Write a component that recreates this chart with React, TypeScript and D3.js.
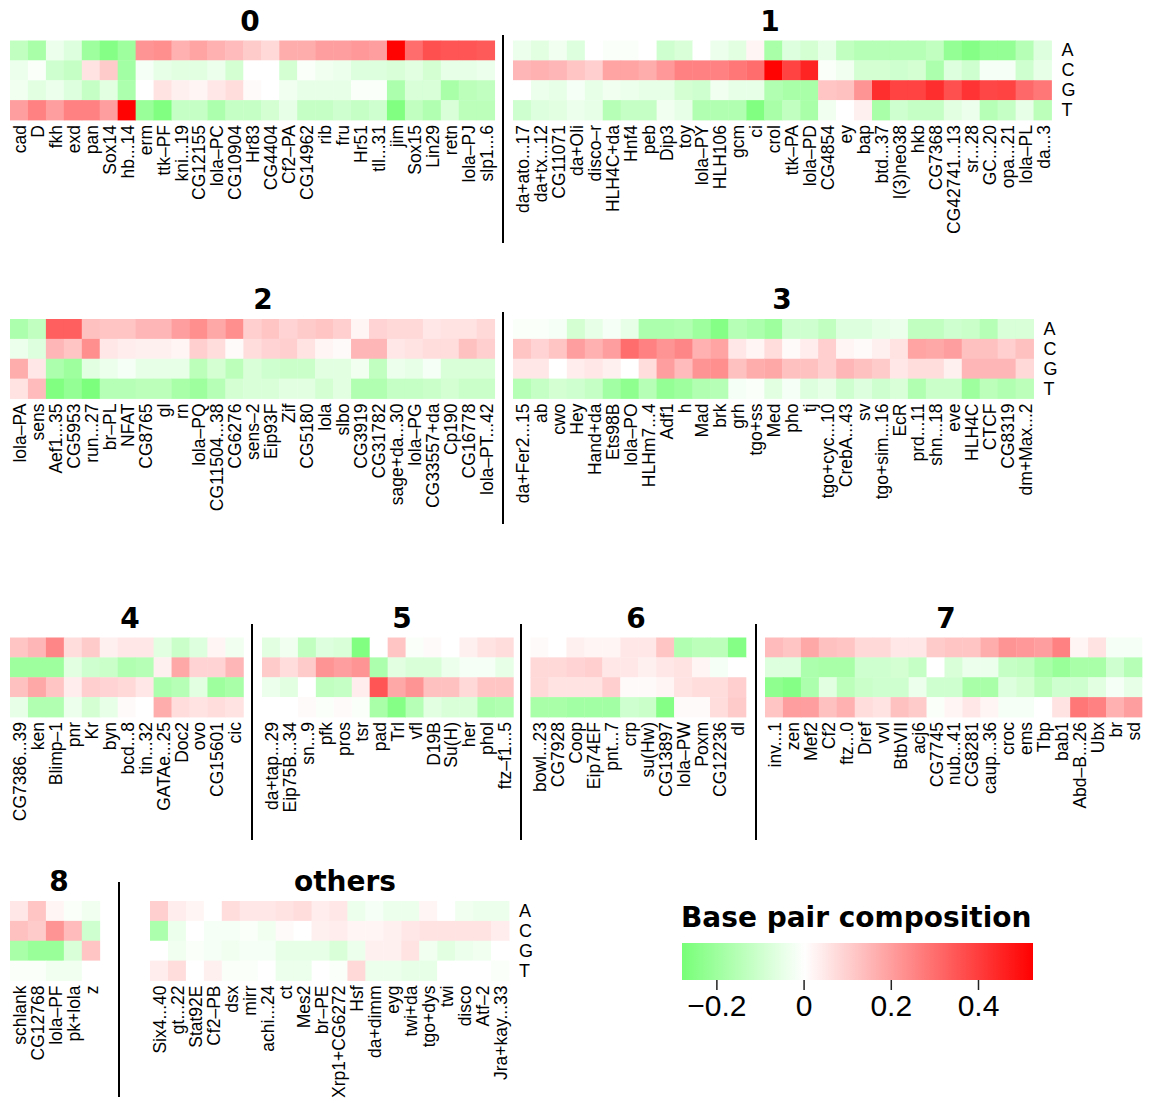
import React, { useEffect, useRef } from "react";
import * as d3 from "d3";

// bases (rows of every heatmap)
const bases = ["A", "C", "G", "T"];

// cluster 0
const g0Labels = ["cad", "D", "fkh", "exd", "pan", "Sox14", "hb...14", "erm", "ttk–PF", "kni...19", "CG12155", "lola–PC", "CG10904", "Hr83", "CG4404", "Cf2–PA", "CG14962", "rib", "fru", "Hr51", "tll...31", "jim", "Sox15", "Lin29", "retn", "lola–PJ", "slp1...6"];
const g0A = [-0.13, -0.18, -0.04, -0.07, -0.2, -0.25, -0.2, 0.22, 0.23, 0.16, 0.19, 0.16, 0.14, 0.11, 0.08, 0.17, 0.17, 0.2, 0.2, 0.21, 0.2, 0.52, 0.3, 0.36, 0.35, 0.35, 0.34];
const g0C = [-0.04, -0.01, -0.1, -0.12, 0.06, 0.11, -0.19, -0.02, -0.05, -0.06, -0.06, -0.04, -0.09, 0, 0, -0.09, -0.01, -0.03, -0.04, -0.07, -0.07, -0.08, -0.06, -0.09, -0.05, -0.05, -0.04];
const g0G = [-0.03, -0.06, -0.04, -0.07, -0.12, -0.06, -0.17, 0, 0.06, 0.03, 0.02, 0.05, 0.07, 0.01, 0, -0.03, -0.05, -0.05, -0.05, -0.01, -0.01, -0.17, -0.08, -0.08, -0.18, -0.14, -0.13];
const g0T = [0.2, 0.26, 0.2, 0.26, 0.26, 0.2, 0.52, -0.21, -0.26, -0.12, -0.12, -0.17, -0.12, -0.12, -0.09, -0.05, -0.12, -0.12, -0.1, -0.12, -0.1, -0.26, -0.13, -0.16, -0.08, -0.14, -0.14];

// cluster 1
const g1Labels = ["da+ato...17", "da+tx...12", "CG11071", "da+Oli", "disco–r", "HLH4C+da", "Hnf4", "peb", "Dip3", "toy", "lola–PY", "HLH106", "gcm", "ci", "crol", "ttk–PA", "lola–PD", "CG4854", "ey", "bap", "btd...37", "l(3)neo38", "hkb", "CG7368", "CG42741...13", "sr...28", "GC...20", "opa...21", "lola–PL", "da...3"];
const g1A = [-0.04, -0.06, -0.03, -0.07, 0, -0.01, -0.01, 0, -0.1, -0.08, 0, -0.04, -0.06, 0.02, -0.18, -0.07, -0.09, -0.05, -0.13, -0.15, -0.15, -0.15, -0.15, -0.13, -0.22, -0.25, -0.22, -0.22, -0.15, -0.07];
const g1C = [0.15, 0.16, 0.15, 0.12, 0.1, 0.19, 0.19, 0.17, 0.21, 0.26, 0.26, 0.26, 0.28, 0.3, 0.52, 0.39, 0.45, -0.01, -0.03, -0.09, -0.09, -0.1, -0.09, -0.17, -0.07, -0.1, -0.02, -0.02, -0.1, -0.05];
const g1G = [0, -0.04, -0.05, -0.02, -0.05, -0.03, -0.04, -0.05, -0.05, -0.09, -0.1, -0.03, -0.05, -0.05, -0.16, -0.18, -0.18, 0.12, 0.13, 0.22, 0.43, 0.39, 0.39, 0.43, 0.36, 0.42, 0.38, 0.39, 0.31, 0.28];
const g1T = [-0.1, -0.07, -0.06, -0.04, -0.05, -0.15, -0.12, -0.12, -0.03, -0.05, -0.16, -0.16, -0.16, -0.26, -0.18, -0.13, -0.18, -0.03, 0, 0.03, -0.18, -0.1, -0.12, -0.12, -0.06, -0.04, -0.15, -0.12, -0.05, -0.14];

// cluster 2
const g2Labels = ["lola–PA", "sens", "Aef1...35", "CG5953", "run...27", "br–PL", "NFAT", "CG8765", "gl", "rn", "lola–PQ", "CG11504...38", "CG6276", "sens–2", "Eip93F", "Zif", "CG5180", "lola", "slbo", "CG3919", "CG31782", "sage+da...30", "lola–PG", "CG33557+da", "Cp190", "CG16778", "lola–PT...42"];
const g2A = [-0.17, -0.13, 0.33, 0.33, 0.13, 0.12, 0.12, 0.15, 0.15, 0.2, 0.23, 0.18, 0.23, 0.1, 0.12, 0.09, 0.11, 0.12, 0.1, 0.02, 0.09, 0.08, 0.08, 0.05, 0.06, 0.06, 0.08];
const g2C = [-0.04, -0.07, 0.15, 0.12, 0.23, 0.05, 0.04, 0.03, 0.03, 0.02, 0.1, 0.07, 0.01, 0.07, 0.09, 0.1, 0.06, 0.02, 0.01, 0.15, 0.15, 0.05, 0.06, 0.07, 0.07, 0.13, 0.1];
const g2G = [0.17, 0.05, -0.17, -0.2, -0.06, -0.04, -0.02, -0.05, -0.05, -0.05, -0.14, -0.09, -0.14, -0.08, -0.1, -0.11, -0.11, -0.06, -0.06, -0.03, -0.13, -0.04, -0.05, -0.02, -0.08, -0.08, -0.08];
const g2T = [0.06, 0.14, -0.26, -0.22, -0.27, -0.15, -0.15, -0.14, -0.14, -0.18, -0.2, -0.15, -0.09, -0.08, -0.08, -0.06, -0.06, -0.09, -0.06, -0.16, -0.16, -0.12, -0.12, -0.11, -0.09, -0.11, -0.11];

// cluster 3
const g3Labels = ["da+Fer2...15", "ab", "cwo", "Hey", "Hand+da", "Ets98B", "lola–PO", "HLHm7...4", "Adf1", "h", "Mad", "brk", "grh", "tgo+ss", "Med", "pho", "tj", "tgo+cyc...10", "CrebA...43", "sv", "tgo+sim...16", "EcR", "prd...11", "shn...18", "eve", "HLH4C", "CTCF", "CG8319", "dm+Max...2"];
const g3A = [-0.01, -0.01, -0.02, -0.09, -0.05, -0.02, -0.05, -0.17, -0.17, -0.16, -0.2, -0.25, -0.15, -0.17, -0.2, -0.1, -0.1, -0.13, -0.07, -0.07, -0.05, -0.04, -0.13, -0.13, -0.1, -0.11, -0.15, -0.08, -0.08];
const g3C = [0.12, 0.09, 0.12, 0.2, 0.16, 0.2, 0.3, 0.26, 0.22, 0.25, 0.16, 0.19, 0.05, 0.02, 0.07, 0.01, 0.04, 0.1, 0.02, 0.01, 0.03, 0.06, 0.19, 0.18, 0.2, 0.13, 0.13, 0.1, 0.13];
const g3G = [0.05, 0.05, 0, 0.04, 0.05, 0.03, 0, 0.07, 0.2, 0.14, 0.22, 0.23, 0.13, 0.17, 0.18, 0.13, 0.13, 0.1, 0.15, 0.13, 0.11, 0.05, 0.07, 0.07, 0.03, 0.15, 0.15, 0.15, 0.08];
const g3T = [-0.15, -0.12, -0.09, -0.1, -0.12, -0.19, -0.23, -0.15, -0.22, -0.2, -0.16, -0.15, -0.02, -0.01, -0.06, -0.02, -0.07, -0.05, -0.1, -0.07, -0.1, -0.08, -0.16, -0.11, -0.11, -0.2, -0.14, -0.16, -0.14];

// cluster 4
const g4Labels = ["CG7386...39", "ken", "Blimp–1", "pnr", "Kr", "byn", "bcd...8", "tin...32", "GATAe...25", "Doc2", "ovo", "CG15601", "cic"];
const g4A = [0.12, 0.15, 0.25, 0.07, 0.11, 0.03, 0.05, 0.05, -0.06, -0.11, -0.07, 0.02, -0.03];
const g4C = [-0.2, -0.2, -0.2, -0.06, -0.1, -0.11, -0.16, -0.15, 0.03, 0.18, 0.09, 0.09, 0.15];
const g4G = [0.13, 0.18, 0.12, 0.04, 0.1, 0.09, 0.08, 0.05, -0.17, -0.15, -0.06, -0.2, -0.18];
const g4T = [-0.05, -0.16, -0.16, -0.04, -0.09, -0.05, 0.01, 0, 0.17, 0.07, 0.06, 0.07, 0.06];

// cluster 5
const g5Labels = ["da+tap...29", "Eip75B...34", "sn...9", "pfk", "pros", "tsr", "pad", "Trl", "vfl", "D19B", "Su(H)", "her", "phol", "ftz–f1...5"];
const g5A = [-0.06, -0.03, -0.13, -0.07, -0.08, -0.26, 0, 0.12, -0.01, 0.01, 0, 0.03, 0.06, 0.07];
const g5C = [0.11, 0.07, 0.11, 0.22, 0.2, 0.22, -0.17, -0.06, -0.08, -0.08, -0.04, -0.02, -0.02, -0.05];
const g5G = [-0.04, -0.06, 0, -0.13, -0.12, 0.04, 0.35, 0.18, 0.22, 0.13, 0.13, 0.08, 0.12, 0.12];
const g5T = [0, 0, 0.01, -0.01, 0.01, -0.01, -0.18, -0.25, -0.15, -0.06, -0.08, -0.08, -0.17, -0.16];

// cluster 6
const g6Labels = ["bowl...23", "CG7928", "Coop", "Eip74EF", "pnt...7", "crp", "su(Hw)", "CG13897", "lola–PW", "Poxm", "CG12236", "dl"];
const g6A = [0.01, 0, 0.03, 0.02, 0.02, 0.05, 0.05, 0.12, -0.16, -0.14, -0.14, -0.25];
const g6C = [0.08, 0.08, 0.09, 0.1, 0.05, 0.05, 0.03, 0.05, 0.06, 0.02, -0.02, 0];
const g6G = [0.08, 0.06, 0.06, 0.06, 0.1, 0.01, 0.01, 0.02, 0.06, 0.07, 0.07, 0.1];
const g6T = [-0.18, -0.18, -0.19, -0.19, -0.19, -0.1, -0.11, -0.25, 0.01, 0.01, 0.07, 0.11];

// cluster 7
const g7Labels = ["inv...1", "zen", "Mef2", "Cf2", "ftz...0", "Dref", "vvl", "BtbVII", "acj6", "CG7745", "nub...41", "CG8281", "caup...36", "croc", "ems", "Tbp", "bab1", "Abd–B...26", "Ubx", "br", "sd"];
const g7A = [0.14, 0.12, 0.18, 0.13, 0.12, 0.08, 0.08, 0.05, 0.05, 0.11, 0.12, 0.12, 0.17, 0.22, 0.21, 0.2, 0.26, 0.02, 0.06, -0.02, -0.02];
const g7C = [-0.07, -0.07, -0.17, -0.18, -0.18, -0.1, -0.1, -0.09, -0.12, 0, -0.08, -0.04, -0.04, -0.12, -0.13, -0.18, -0.21, -0.18, -0.18, -0.1, -0.15];
const g7G = [-0.23, -0.25, -0.17, -0.06, -0.14, -0.11, -0.1, -0.1, -0.04, -0.1, -0.1, -0.18, -0.18, -0.07, -0.09, -0.14, -0.1, -0.1, -0.06, -0.02, -0.05];
const g7T = [0.12, 0.2, 0.2, 0.13, 0.16, 0.07, 0.06, 0.13, 0.11, -0.01, 0.02, 0.05, 0.02, -0.02, -0.02, 0, 0.06, 0.28, 0.26, 0.16, 0.2];

// cluster 8
const g8Labels = ["schlank", "CG12768", "lola–PF", "pk+lola", "z"];
const g8A = [0.05, 0.12, 0.02, -0.01, -0.03];
const g8C = [0.13, 0.11, 0.22, 0.14, -0.1];
const g8G = [-0.18, -0.21, -0.21, -0.08, 0.12];
const g8T = [-0.01, -0.01, -0.03, -0.03, 0];

// others
const gxLabels = ["Six4...40", "gt...22", "Stat92E", "Cf2–PB", "dsx", "mirr", "achi...24", "ct", "Mes2", "br–PE", "Xrp1+CG6272", "Hsf", "da+dimm", "eyg", "twi+da", "tgo+dys", "twi", "disco", "Atf–2", "Jra+kay...33"];
const gxA = [0.1, 0.04, 0.02, 0, 0.07, 0.05, 0.05, 0.06, 0.07, 0.04, 0.05, -0.04, -0.02, -0.04, -0.04, 0.02, 0, -0.03, -0.04, -0.04];
const gxC = [-0.17, -0.04, 0, -0.02, -0.02, -0.01, -0.03, 0.01, 0, 0.03, 0.04, 0.02, 0.02, 0.03, 0.05, 0.06, 0.06, 0.06, 0.06, 0.04];
const gxG = [0, -0.03, -0.01, -0.02, -0.03, -0.02, -0.02, -0.05, -0.05, -0.05, -0.08, -0.04, 0.03, 0.03, 0.06, -0.03, -0.06, -0.04, -0.03, 0];
const gxT = [0.04, 0.07, 0, 0.03, -0.01, -0.01, 0, -0.04, -0.04, 0, -0.01, 0.08, -0.04, -0.04, -0.05, -0.05, 0, 0, 0, -0.01];

// colour bar
const legendTitle = "Base pair composition";
const legendDomain = [-0.28, 0.525];
const legendTicks = [-0.2, 0, 0.2, 0.4];
const colorLimit = 0.525;

const App = () => {
  const svgRef = useRef<SVGSVGElement>(null);

  useEffect(() => {
    const svg = d3.select(svgRef.current);
    svg.selectAll("*").remove();

    const cellW = 17.95;
    const heatH = 79.5;
    const rowTops = [40.5, 319, 637.5, 901];

    const panels = [
      { title: "0", labels: g0Labels, vals: [g0A, g0C, g0G, g0T], x: 10, row: 0, titleX: 250 },
      { title: "1", labels: g1Labels, vals: [g1A, g1C, g1G, g1T], x: 513, row: 0, titleX: 770, bases: true },
      { title: "2", labels: g2Labels, vals: [g2A, g2C, g2G, g2T], x: 10, row: 1, titleX: 263 },
      { title: "3", labels: g3Labels, vals: [g3A, g3C, g3G, g3T], x: 513, row: 1, titleX: 782, bases: true },
      { title: "4", labels: g4Labels, vals: [g4A, g4C, g4G, g4T], x: 10, row: 2, titleX: 130 },
      { title: "5", labels: g5Labels, vals: [g5A, g5C, g5G, g5T], x: 262, row: 2, titleX: 402 },
      { title: "6", labels: g6Labels, vals: [g6A, g6C, g6G, g6T], x: 530.5, row: 2, titleX: 636 },
      { title: "7", labels: g7Labels, vals: [g7A, g7C, g7G, g7T], x: 765, row: 2, titleX: 946 },
      { title: "8", labels: g8Labels, vals: [g8A, g8C, g8G, g8T], x: 10, row: 3, titleX: 59 },
      { title: "others", labels: gxLabels, vals: [gxA, gxC, gxG, gxT], x: 150, row: 3, titleX: 345, bases: true },
    ];

    // separators between clusters: [x, y1, y2]
    const dividers = [
      [503, 35, 243],
      [503, 312, 524],
      [252, 624, 840],
      [521, 624, 840],
      [756, 624, 840],
      [119, 882, 1097],
    ];

    const color = d3
      .scaleLinear<string>()
      .domain([-colorLimit, 0, colorLimit])
      .range(["#00ff00", "#ffffff", "#ff0000"]);

    const labelFont = "'Liberation Sans', Arial, Helvetica, sans-serif";
    const titleFont = "'DejaVu Sans', Verdana, sans-serif";

    const y = d3.scaleBand().domain(bases);

    panels.forEach(p => {
      const top = rowTops[p.row];
      const n = p.labels.length;
      const x = d3
        .scaleBand<number>()
        .domain(d3.range(n))
        .range([p.x, p.x + n * cellW]);
      y.range([top, top + heatH]);

      const g = svg.append("g");

      bases.forEach((b, bi) => {
        g.selectAll(null)
          .data(p.vals[bi])
          .enter()
          .append("rect")
          .attr("x", (_, i) => x(i)!)
          .attr("y", y(b)!)
          .attr("width", x.bandwidth() + 0.4)
          .attr("height", y.bandwidth() + 0.4)
          .attr("fill", d => color(d));
      });

      // column labels, rotated
      g.selectAll(null)
        .data(p.labels)
        .enter()
        .append("text")
        .attr("transform", (_, i) => `translate(${x(i)! + x.bandwidth() / 2 + 1},${top + heatH + 5}) rotate(-90)`)
        .attr("text-anchor", "end")
        .attr("dominant-baseline", "central")
        .style("font-family", labelFont)
        .style("font-size", "17.5px")
        .text(d => d);

      // cluster title
      svg
        .append("text")
        .attr("x", p.titleX)
        .attr("y", top - 10)
        .attr("text-anchor", "middle")
        .style("font-family", titleFont)
        .style("font-weight", "bold")
        .style("font-size", "28px")
        .text(p.title);

      if (p.bases) {
        g.selectAll(null)
          .data(bases)
          .enter()
          .append("text")
          .attr("x", p.x + n * cellW + 10)
          .attr("y", d => y(d)! + y.bandwidth() / 2)
          .attr("dominant-baseline", "central")
          .style("font-family", labelFont)
          .style("font-size", "18px")
          .text(d => d);
      }
    });

    svg
      .selectAll(null)
      .data(dividers)
      .enter()
      .append("line")
      .attr("x1", d => d[0])
      .attr("x2", d => d[0])
      .attr("y1", d => d[1])
      .attr("y2", d => d[2])
      .attr("stroke", "#000")
      .attr("stroke-width", 2);

    // Legend
    const lx = d3.scaleLinear().domain(legendDomain).range([682, 1033]);
    const barTop = 943;
    const barH = 37;

    const grad = svg
      .append("defs")
      .append("linearGradient")
      .attr("id", "bpGrad")
      .attr("x1", "0%")
      .attr("x2", "100%");
    const stops = d3.range(0, 1.0001, 0.05);
    grad
      .selectAll("stop")
      .data(stops)
      .enter()
      .append("stop")
      .attr("offset", d => `${d * 100}%`)
      .attr("stop-color", d => color(legendDomain[0] + d * (legendDomain[1] - legendDomain[0])));

    svg
      .append("rect")
      .attr("x", lx(legendDomain[0]))
      .attr("y", barTop)
      .attr("width", lx(legendDomain[1]) - lx(legendDomain[0]))
      .attr("height", barH)
      .attr("fill", "url(#bpGrad)");

    svg
      .append("text")
      .attr("x", 681)
      .attr("y", 927)
      .style("font-family", titleFont)
      .style("font-weight", "bold")
      .style("font-size", "28px")
      .text(legendTitle);

    const tickG = svg.append("g");
    tickG
      .selectAll("line")
      .data(legendTicks)
      .enter()
      .append("line")
      .attr("x1", d => lx(d))
      .attr("x2", d => lx(d))
      .attr("y1", barTop + barH)
      .attr("y2", barTop + barH + 10)
      .attr("stroke", "#222")
      .attr("stroke-width", 1.5);
    tickG
      .selectAll("text")
      .data(legendTicks)
      .enter()
      .append("text")
      .attr("x", d => lx(d))
      .attr("y", 1016)
      .attr("text-anchor", "middle")
      .style("font-family", labelFont)
      .style("font-size", "30px")
      .text(d => (d < 0 ? "−" + Math.abs(d) : String(d)));
  }, []);

  return (
    <div style={{ position: "absolute", left: 0, top: 0 }}>
      <svg ref={svgRef} width={1168} height={1103} style={{ display: "block", background: "#fff" }}></svg>
    </div>
  );
};

export default App;
